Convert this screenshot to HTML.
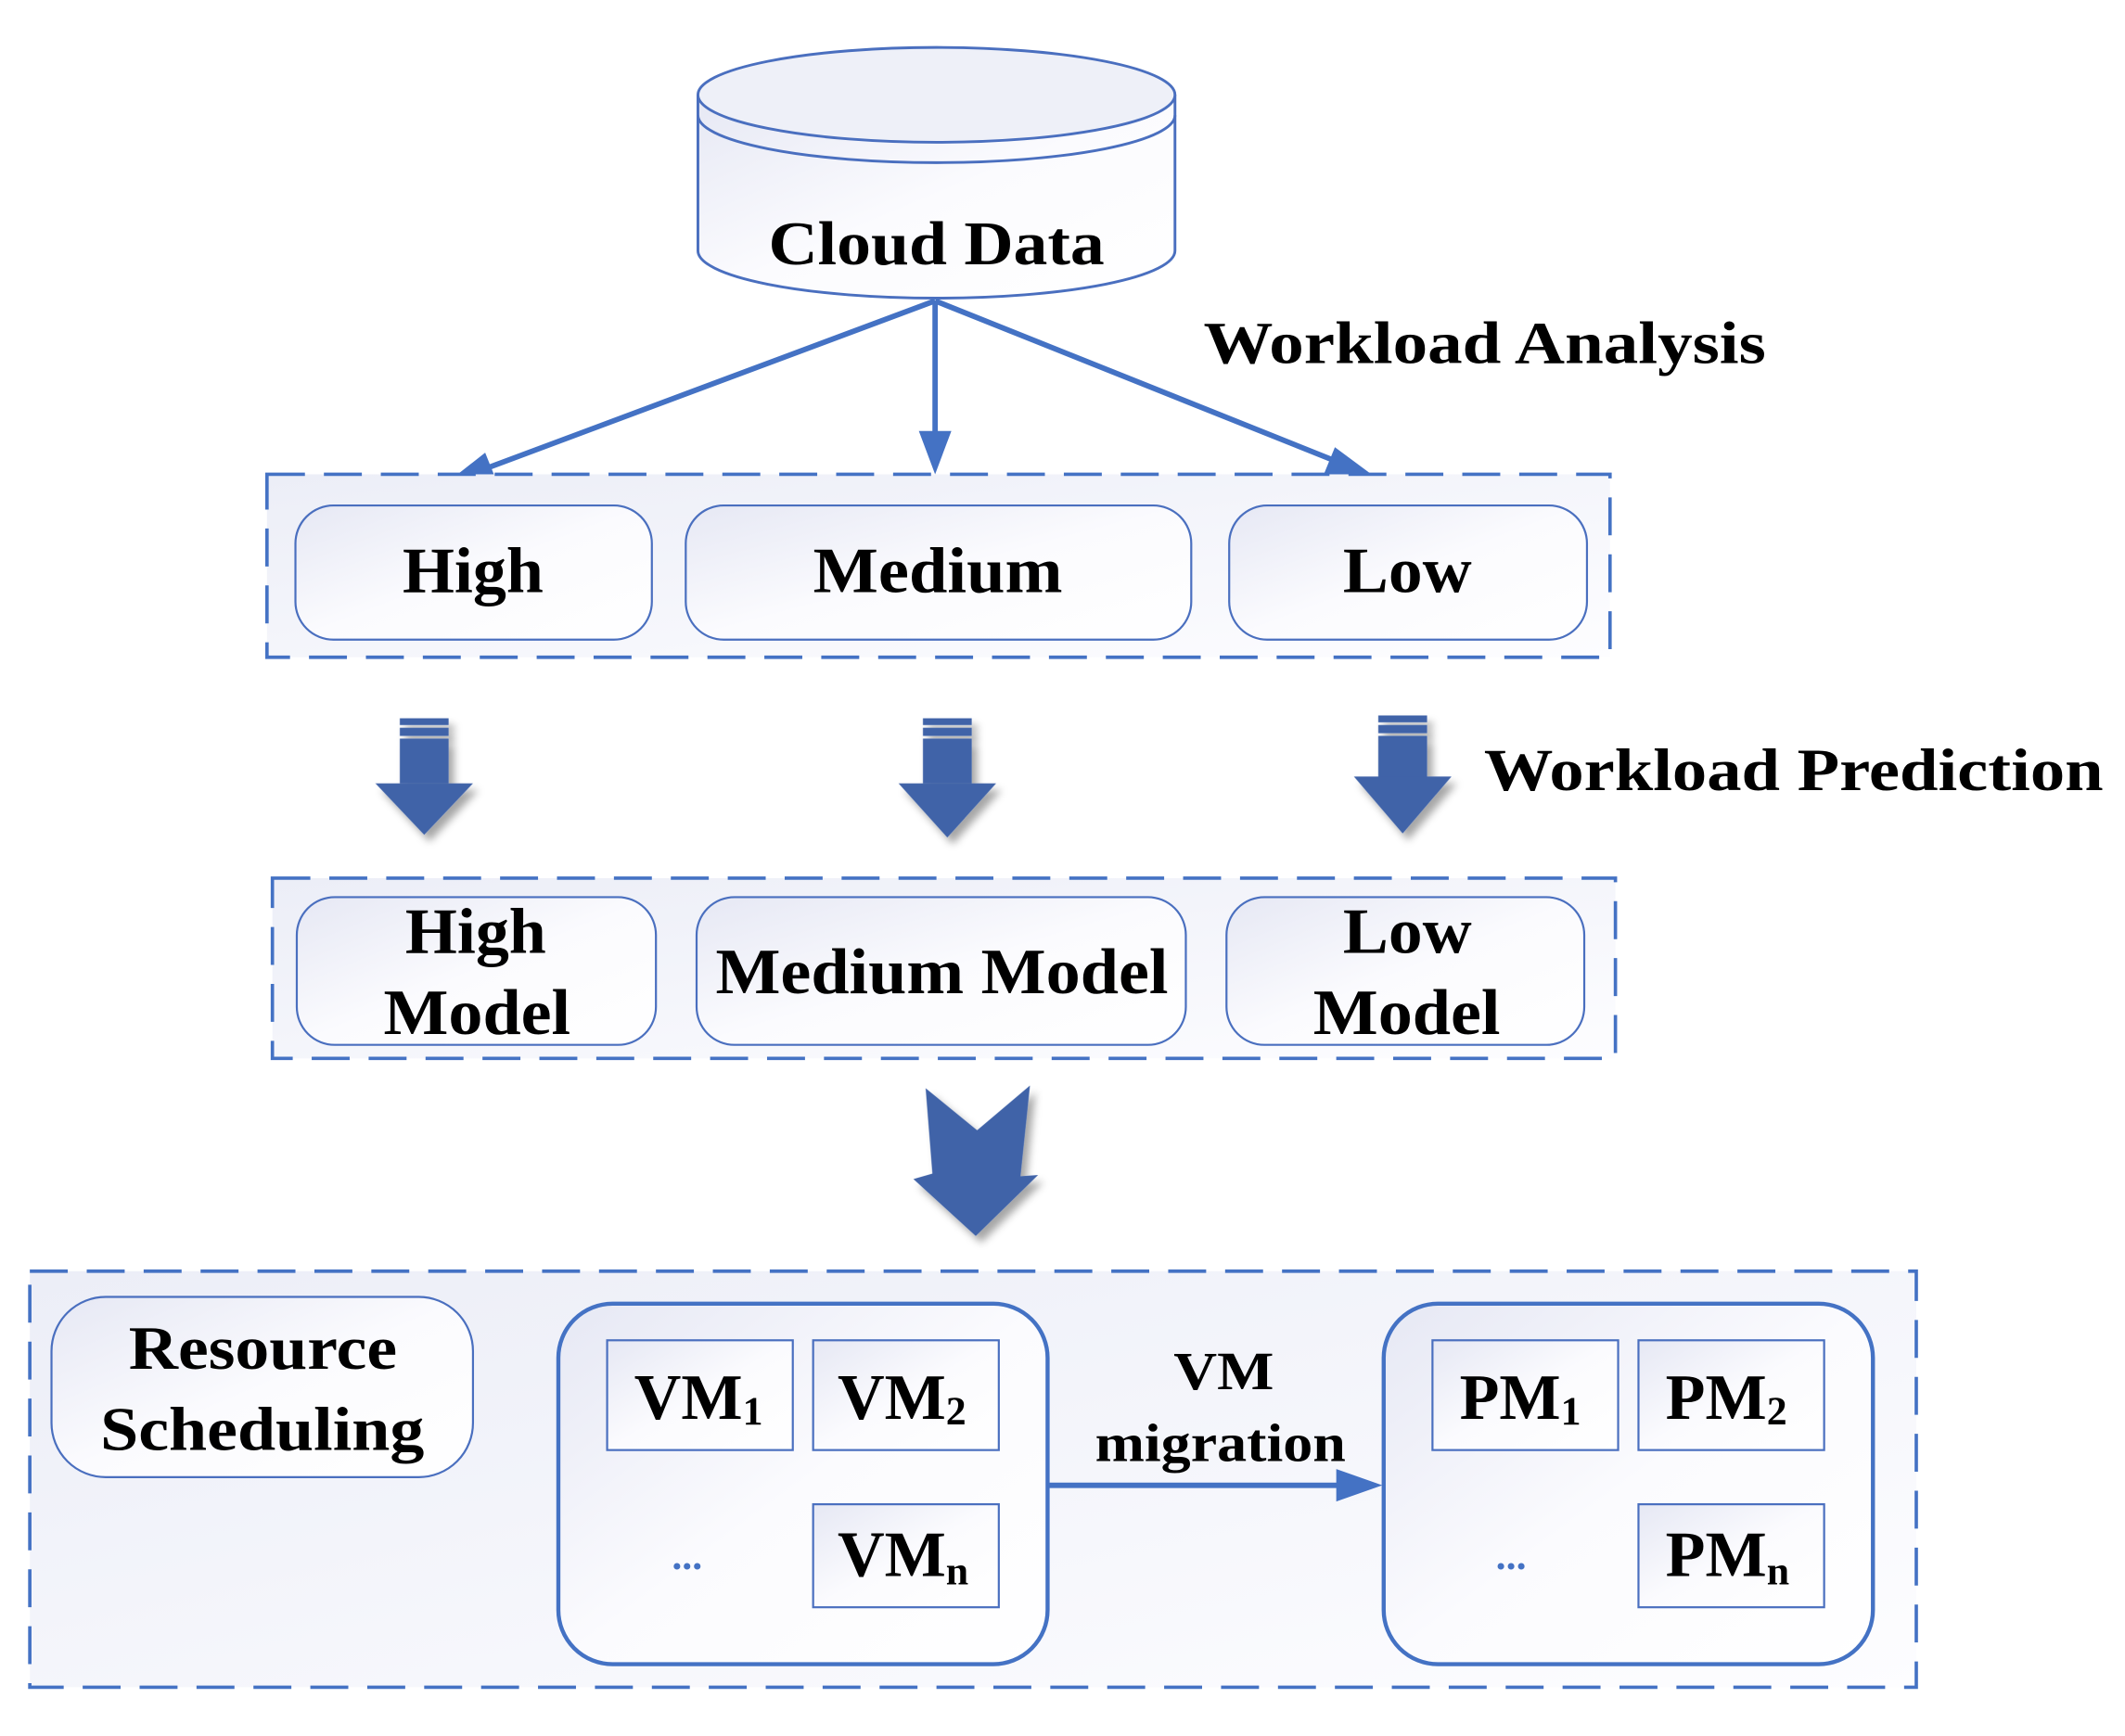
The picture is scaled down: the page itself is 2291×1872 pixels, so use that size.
<!DOCTYPE html>
<html><head><meta charset="utf-8"><style>
html,body{margin:0;padding:0;background:#fff;}
svg{display:block;}
text{font-family:"Liberation Serif",serif;font-weight:bold;fill:#000;}
</style></head><body>
<svg width="2291" height="1872" viewBox="0 0 1568 1281" preserveAspectRatio="none" xmlns="http://www.w3.org/2000/svg">
<defs>
<linearGradient id="g" x1="0" y1="0" x2="1" y2="1">
<stop offset="0" stop-color="#e6e8f4"/><stop offset="0.5" stop-color="#fbfbfe"/><stop offset="1" stop-color="#ffffff"/>
</linearGradient>
<linearGradient id="gb" x1="0" y1="0" x2="1" y2="1">
<stop offset="0" stop-color="#eceef7"/><stop offset="1" stop-color="#fdfdff"/>
</linearGradient>
<filter id="sh" x="-30%" y="-30%" width="160%" height="160%"><feDropShadow dx="4" dy="5" stdDeviation="3" flood-color="#000" flood-opacity="0.35"/></filter>
</defs>

<path d="M515 70 L515 185 A176 35 0 0 0 867 185 L867 70" fill="url(#g)" stroke="#4a6fbf" stroke-width="2"/>
<ellipse cx="691" cy="70" rx="176" ry="35" fill="#eef0f8" stroke="#4a6fbf" stroke-width="2"/>
<path d="M515 85 A176 35 0 0 0 867 85" fill="none" stroke="#4a6fbf" stroke-width="2"/>
<text x="567" y="195" font-size="46" textLength="248" lengthAdjust="spacingAndGlyphs">Cloud Data</text>

<g stroke="#4472c4" stroke-width="4" fill="#4472c4">
<line x1="690" y1="222" x2="355" y2="347"/>
<line x1="690" y1="222" x2="690" y2="325"/>
<line x1="690" y1="222" x2="990" y2="342"/>
<polygon points="330,356 358,334 366,354" stroke="none"/>
<polygon points="690,350 678,318 702,318" stroke="none"/>
<polygon points="1012,350 985,330 976,352" stroke="none"/>
</g>
<text x="888" y="268" font-size="44" textLength="415" lengthAdjust="spacingAndGlyphs">Workload Analysis</text>

<rect x="197" y="350" width="991" height="135" fill="url(#gb)" stroke="#4472c4" stroke-width="2.5" stroke-dasharray="28,14"/>
<rect x="218" y="373" width="263" height="99" rx="28" fill="url(#g)" stroke="#4a6fbf" stroke-width="1.5"/>
<rect x="506" y="373" width="373" height="99" rx="28" fill="url(#g)" stroke="#4a6fbf" stroke-width="1.5"/>
<rect x="907" y="373" width="264" height="99" rx="28" fill="url(#g)" stroke="#4a6fbf" stroke-width="1.5"/>
<text x="297" y="437" font-size="48" textLength="104" lengthAdjust="spacingAndGlyphs">High</text>
<text x="600" y="437" font-size="48" textLength="184" lengthAdjust="spacingAndGlyphs">Medium</text>
<text x="991" y="437" font-size="48" textLength="95" lengthAdjust="spacingAndGlyphs">Low</text>

<g fill="#4063a8" filter="url(#sh)">
<g transform="translate(313,0)"><rect x="-18" y="530" width="36" height="5"/><rect x="-18" y="537" width="36" height="6"/><rect x="-18" y="545" width="36" height="33"/><polygon points="-36,578 36,578 0,616"/></g>
<g transform="translate(699,0)"><rect x="-18" y="530" width="36" height="5"/><rect x="-18" y="537" width="36" height="6"/><rect x="-18" y="545" width="36" height="33"/><polygon points="-36,578 36,578 0,618"/></g>
<g transform="translate(1035,0)"><rect x="-18" y="528" width="36" height="5"/><rect x="-18" y="535" width="36" height="6"/><rect x="-18" y="543" width="36" height="33"/><polygon points="-36,573 36,573 0,615"/></g>
<polygon points="683,803 721,834 760,801 753,868 766,867 720,912 674,870 688,866"/>
</g>
<text x="1095" y="583" font-size="44" textLength="457" lengthAdjust="spacingAndGlyphs">Workload Prediction</text>

<rect x="201" y="648" width="991" height="133" fill="url(#gb)" stroke="#4472c4" stroke-width="2.5" stroke-dasharray="28,14"/>
<rect x="219" y="662" width="265" height="109" rx="28" fill="url(#g)" stroke="#4a6fbf" stroke-width="1.5"/>
<rect x="514" y="662" width="361" height="109" rx="28" fill="url(#g)" stroke="#4a6fbf" stroke-width="1.5"/>
<rect x="905" y="662" width="264" height="109" rx="28" fill="url(#g)" stroke="#4a6fbf" stroke-width="1.5"/>
<text x="299" y="703" font-size="48" textLength="104" lengthAdjust="spacingAndGlyphs">High</text>
<text x="283" y="763" font-size="48" textLength="138" lengthAdjust="spacingAndGlyphs">Model</text>
<text x="528" y="733" font-size="48" textLength="334" lengthAdjust="spacingAndGlyphs">Medium Model</text>
<text x="991" y="703" font-size="48" textLength="95" lengthAdjust="spacingAndGlyphs">Low</text>
<text x="969" y="763" font-size="48" textLength="138" lengthAdjust="spacingAndGlyphs">Model</text>

<rect x="22" y="938" width="1392" height="307" fill="url(#gb)" stroke="#4472c4" stroke-width="2.5" stroke-dasharray="28,14"/>
<rect x="38" y="957" width="311" height="133" rx="40" fill="url(#g)" stroke="#4a6fbf" stroke-width="1.5"/>
<text x="95" y="1010" font-size="46" textLength="198" lengthAdjust="spacingAndGlyphs">Resource</text>
<text x="74" y="1070" font-size="46" textLength="239" lengthAdjust="spacingAndGlyphs">Scheduling</text>

<rect x="412" y="962" width="361" height="266" rx="40" fill="url(#g)" stroke="#4472c4" stroke-width="3"/>
<rect x="448" y="989" width="137" height="81" fill="url(#g)" stroke="#4a6fbf" stroke-width="1.5"/>
<rect x="600" y="989" width="137" height="81" fill="url(#g)" stroke="#4a6fbf" stroke-width="1.5"/>
<rect x="600" y="1110" width="137" height="76" fill="url(#g)" stroke="#4a6fbf" stroke-width="1.5"/>
<text x="468" y="1047" font-size="48">VM<tspan font-size="30" dy="4">1</tspan></text>
<text x="618" y="1047" font-size="48">VM<tspan font-size="30" dy="4">2</tspan></text>
<text x="618" y="1163" font-size="48">VM<tspan font-size="30" dy="6">n</tspan></text>
<text x="507" y="1158" font-size="30" text-anchor="middle" style="fill:#4472c4">...</text>

<rect x="1021" y="962" width="361" height="266" rx="40" fill="url(#g)" stroke="#4472c4" stroke-width="3"/>
<rect x="1057" y="989" width="137" height="81" fill="url(#g)" stroke="#4a6fbf" stroke-width="1.5"/>
<rect x="1209" y="989" width="137" height="81" fill="url(#g)" stroke="#4a6fbf" stroke-width="1.5"/>
<rect x="1209" y="1110" width="137" height="76" fill="url(#g)" stroke="#4a6fbf" stroke-width="1.5"/>
<text x="1077" y="1047" font-size="48">PM<tspan font-size="30" dy="4">1</tspan></text>
<text x="1229" y="1047" font-size="48">PM<tspan font-size="30" dy="4">2</tspan></text>
<text x="1229" y="1163" font-size="48">PM<tspan font-size="30" dy="6">n</tspan></text>
<text x="1115" y="1158" font-size="30" text-anchor="middle" style="fill:#4472c4">...</text>

<line x1="773" y1="1096" x2="990" y2="1096" stroke="#4472c4" stroke-width="4"/>
<polygon points="1020,1096 986,1084 986,1108" fill="#4472c4"/>
<text x="866" y="1025" font-size="40" textLength="74" lengthAdjust="spacingAndGlyphs">VM</text>
<text x="808" y="1078" font-size="40" textLength="185" lengthAdjust="spacingAndGlyphs">migration</text>
</svg>
</body></html>
